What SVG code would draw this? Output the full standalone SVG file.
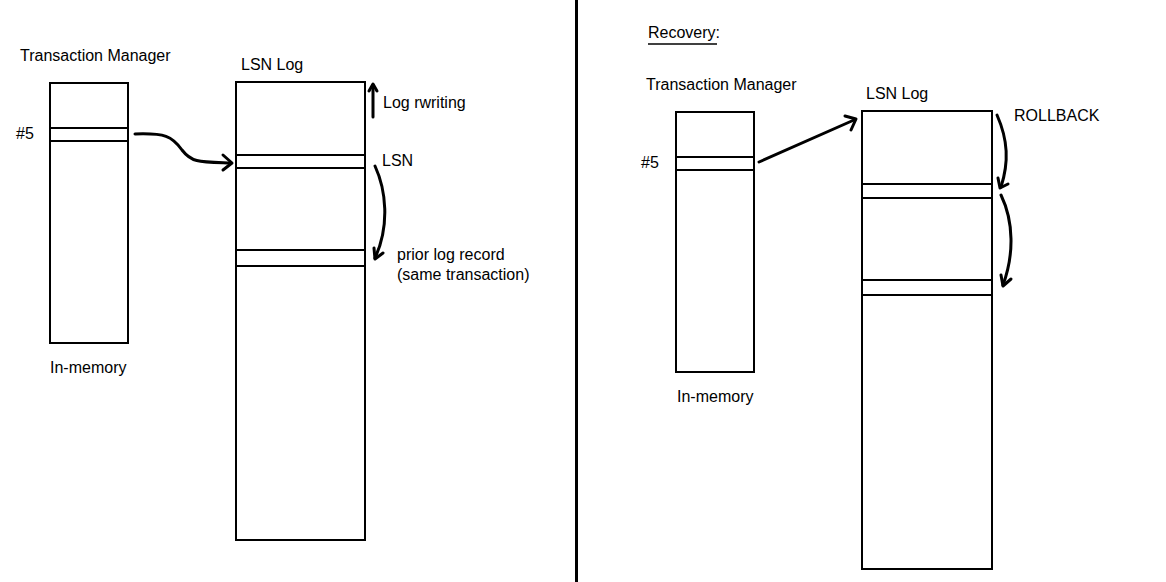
<svg xmlns="http://www.w3.org/2000/svg" width="1166" height="582" viewBox="0 0 1166 582">
<style>
.box{fill:#fff;stroke:#000;stroke-width:2}
.ln{stroke:#000;stroke-width:2;fill:none}
.conn{stroke:#000;stroke-width:3;fill:none;stroke-linecap:round}
.head{stroke:#000;stroke-width:3;fill:none;stroke-linecap:round;stroke-linejoin:round}
text{font-family:"Liberation Sans",Arial,sans-serif;font-size:16px;fill:#000}
</style>
<rect width="1166" height="582" fill="#fff"/>
<line x1="576.5" y1="0" x2="576.5" y2="582" stroke="#000" stroke-width="3"/>
<g id="left-tm">
<text x="20" y="61">Transaction Manager</text>
<rect class="box" x="50" y="83" width="78" height="260"/>
<line class="ln" x1="50" y1="128" x2="128" y2="128"/>
<line class="ln" x1="50" y1="141" x2="128" y2="141"/>
<text x="16" y="139">#5</text>
<text x="50" y="373">In-memory</text>
</g>
<g id="left-log">
<text x="241" y="70">LSN Log</text>
<rect class="box" x="236" y="82" width="129" height="458"/>
<line class="ln" x1="236" y1="155" x2="365" y2="155"/>
<line class="ln" x1="236" y1="168" x2="365" y2="168"/>
<line class="ln" x1="236" y1="250" x2="365" y2="250"/>
<line class="ln" x1="236" y1="266" x2="365" y2="266"/>
<text x="383" y="108">Log rwriting</text>
<text x="382" y="166">LSN</text>
<text x="397" y="260">prior log record</text>
<text x="397" y="280">(same transaction)</text>
</g>
<g id="right-tm">
<text x="648" y="38">Recovery:</text>
<line x1="648" y1="44" x2="717" y2="44" stroke="#000" stroke-width="1.5"/>
<text x="646" y="90">Transaction Manager</text>
<rect class="box" x="676" y="112" width="78" height="260"/>
<line class="ln" x1="676" y1="157" x2="754" y2="157"/>
<line class="ln" x1="676" y1="170" x2="754" y2="170"/>
<text x="641" y="168">#5</text>
<text x="677" y="402">In-memory</text>
</g>
<g id="right-log">
<text x="866" y="99">LSN Log</text>
<rect class="box" x="862" y="111" width="130" height="458"/>
<line class="ln" x1="862" y1="184" x2="992" y2="184"/>
<line class="ln" x1="862" y1="198" x2="992" y2="198"/>
<line class="ln" x1="862" y1="280" x2="992" y2="280"/>
<line class="ln" x1="862" y1="295" x2="992" y2="295"/>
<text x="1014" y="121">ROLLBACK</text>
</g>
<g id="connectors">
<path class="conn" d="M135,134 C165,133 172,136 182,150 C192,163 200,162 231,163"/>
<path class="head" d="M223,155 L232,163 L223,170"/>
<line class="conn" x1="373" y1="117" x2="373" y2="85"/>
<path class="head" d="M369,91 L373,84 L377,91"/>
<path class="conn" d="M375,166 C386,190 390,225 375,258"/>
<path class="head" d="M374,248 L375,259 L383,253"/>
<line class="conn" x1="759" y1="162" x2="854" y2="120"/>
<path class="head" d="M845,116 L856,119 L851,130"/>
<path class="conn" d="M997,115 C1008,140 1009,162 1001,187"/>
<path class="head" d="M998,178 L1000,188 L1008,184"/>
<path class="conn" d="M1001,195 C1014,222 1014,255 1003,285"/>
<path class="head" d="M1001,275 L1003,286 L1011,279"/>
</g>
</svg>
